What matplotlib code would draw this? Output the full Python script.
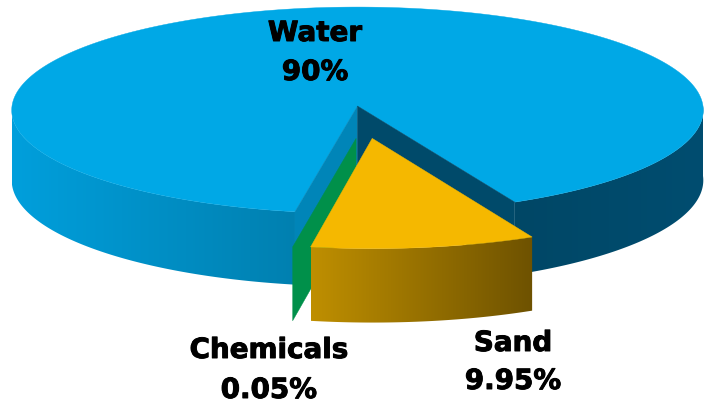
import numpy as np
import matplotlib
matplotlib.use('Agg')
import matplotlib.pyplot as plt
import matplotlib.patheffects as pe
from matplotlib.colors import LinearSegmentedColormap
from matplotlib.patches import Polygon

# data
labels = ['Sand', 'Chemicals', 'Water']
values = [9.95, 0.05, 90]
value_text = ['9.95%', '0.05%', '90%']

# view of the disc (pixels of the 704x405 picture)
CX, CY = 357.5, 106
RX, RY = 345.5, 103
PERSP = 0.041
DEPTH = 70
START = 64

OFFSETS = {'Sand': (0.042, 0.31), 'Chemicals': (-0.004, 0.31), 'Water': (0, 0)}


def project(theta, r=1.0, off=(0, 0), down=0):
    th = np.radians(theta)
    x = r * np.cos(th) + off[0]
    y = r * np.sin(th) + off[1]
    w = 1 - PERSP * y
    return CX + RX * x / w, CY + (RY * y + down) / w


def wall(ax, a0, a1, c_left, c_right, off=(0, 0), z=2):
    # side of the pie, a left to right gradient clipped to the rim band
    th = np.linspace(a0, a1, 200)
    xt, yt = project(th, off=off)
    xb, yb = project(th, off=off, down=DEPTH)
    band = Polygon(np.c_[np.r_[xt, xb[::-1]], np.r_[yt, yb[::-1]]], closed=True,
                   fc='none', ec='none', transform=ax.transData)
    ax.add_patch(band)
    cmap = LinearSegmentedColormap.from_list('w', [c_left, c_right])
    extent = (xt.min(), xt.max(), yb.max(), yt.min())
    im = ax.imshow(np.linspace(0, 1, 256)[None, :], cmap=cmap, extent=extent,
                   aspect='auto', zorder=z, interpolation='bilinear')
    im.set_clip_path(band)


def top(ax, a0, a1, color, off=(0, 0), z=3):
    th = np.linspace(a0, a1, 300)
    x, y = project(th, off=off)
    x0, y0 = project(0, r=0, off=off)
    ax.fill(np.r_[x0, x], np.r_[y0, y], color=color, lw=0.3, zorder=z)


def cut_face(ax, angle, color, off=(0, 0), z=2.5):
    x0, y0 = project(angle, r=0, off=off)
    x1, y1 = project(angle, off=off)
    x2, y2 = project(angle, off=off, down=DEPTH)
    x3, y3 = project(angle, r=0, off=off, down=DEPTH)
    ax.fill([x0, x1, x2, x3], [y0, y1, y2, y3], color=color, lw=0.3, zorder=z)


# slice angles come from the values
spans = [v / sum(values) * 360 for v in values]
sand_a = (START, START + spans[0])
chem_a = (sand_a[1], sand_a[1] + spans[1])
water_a = (chem_a[1], chem_a[1] + spans[2])

fig = plt.figure(figsize=(7.04, 4.05), dpi=100)
ax = fig.add_axes([0, 0, 1, 1])

# water
wall(ax, water_a[0], 180, '#009FDC', '#0080B0')
wall(ax, 0, water_a[1] - 360, '#004766', '#004D70')
cut_face(ax, water_a[0], '#0085B8')
cut_face(ax, START, '#004A6A')
top(ax, water_a[0], water_a[1], '#00A8E6', z=2.2)

# chemicals, only its cut side shows
cut_face(ax, chem_a[1], '#00904A', off=OFFSETS['Chemicals'], z=4)

# sand
wall(ax, sand_a[0], sand_a[1], '#BF8F00', '#6E5200', off=OFFSETS['Sand'], z=5)
top(ax, sand_a[0], sand_a[1], '#F5B800', off=OFFSETS['Sand'], z=6)

# labels
pos = {'Water': (315, 33, 72), 'Chemicals': (269, 350, 390), 'Sand': (513, 343, 381)}
for name, txt in zip(labels, value_text):
    x, y1, y2 = pos[name]
    for s, y in ((name, y1), (txt, y2)):
        ax.text(x, y, s, ha='center', va='center', fontsize=20, fontweight='bold',
                family='DejaVu Sans', color='black', zorder=10,
                path_effects=[pe.withStroke(linewidth=0.7, foreground='black')])

ax.set_xlim(0, 704)
ax.set_ylim(405, 0)
ax.axis('off')

fig.savefig('out.png', dpi=100)
